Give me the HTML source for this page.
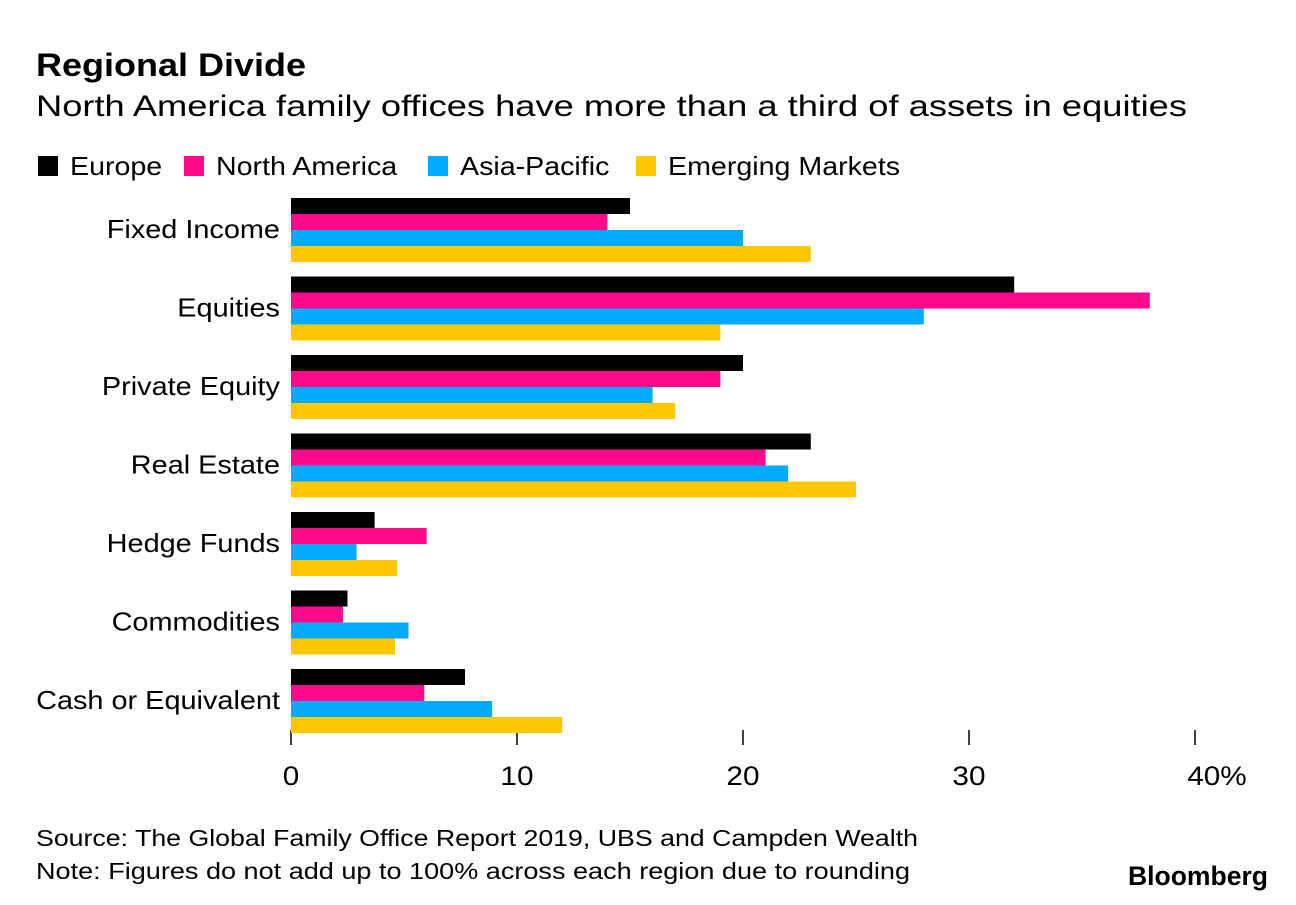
<!DOCTYPE html>
<html><head><meta charset="utf-8"><style>
body{margin:0;background:#fff;font-family:"Liberation Sans",sans-serif;}
</style></head><body>
<svg width="1296" height="900" xmlns="http://www.w3.org/2000/svg" style="font-family:'Liberation Sans',sans-serif">
<text x="36" y="76" font-size="32" font-weight="bold" fill="#000" textLength="270" lengthAdjust="spacingAndGlyphs">Regional Divide</text>
<text x="36" y="116" font-size="30" fill="#000" textLength="1151" lengthAdjust="spacingAndGlyphs">North America family offices have more than a third of assets in equities</text>
<g id="legend"></g>
<g id="plot"></g>
<text x="36" y="846" font-size="23" fill="#000" textLength="882" lengthAdjust="spacingAndGlyphs">Source: The Global Family Office Report 2019, UBS and Campden Wealth</text>
<text x="36" y="879" font-size="23" fill="#000" textLength="874" lengthAdjust="spacingAndGlyphs">Note: Figures do not add up to 100% across each region due to rounding</text>
<text x="1268" y="885" font-size="27" font-weight="bold" text-anchor="end" fill="#000" textLength="140" lengthAdjust="spacingAndGlyphs">Bloomberg</text>
</svg>
<script>
const categories=["Fixed Income","Equities","Private Equity","Real Estate","Hedge Funds","Commodities","Cash or Equivalent"];
const seriesNames=["Europe","North America","Asia-Pacific","Emerging Markets"];
const europe=[15,32,20,23,3.7,2.5,7.7];
const northAmerica=[14,38,19,21,6,2.3,5.9];
const asiaPacific=[20,28,16,22,2.9,5.2,8.9];
const emerging=[23,19,17,25,4.7,4.6,12];
const ticks=[0,10,20,30,40];
const tickLabels=["0","10","20","30","40%"];
const colors=["#000000","#ff0a8c","#00aaff","#ffc800"];
const NS="http://www.w3.org/2000/svg";
const x0=291, pxPer=22.6, groupTop=198, groupStep=78.5, barH=16;
const xs=v=>x0+v*pxPer;
function mk(tag,attrs,parent){const e=document.createElementNS(NS,tag);for(const k in attrs)e.setAttribute(k,attrs[k]);parent.appendChild(e);return e;}
const plot=document.getElementById('plot'), legend=document.getElementById('legend');
const series=[europe,northAmerica,asiaPacific,emerging];
const legendX=[38,184,428,636];
seriesNames.forEach((n,i)=>{
  const r=mk('rect',{x:legendX[i],y:156,width:20,height:20,fill:colors[i]},legend);
  
  
  const t=mk('text',{x:legendX[i]+32,y:175,'font-size':26,fill:'#000'},legend);
  t.textContent=n;
  
  
  t.setAttribute('textLength',(t.getComputedTextLength()*1.1).toFixed(1));
  t.setAttribute('lengthAdjust','spacingAndGlyphs');
});
ticks.forEach((v,i)=>{
  const l=mk('line',{x1:xs(v),x2:xs(v),y1:730,y2:745,stroke:'#000','stroke-width':1.5},plot);
  
  
  const t=mk('text',{x:xs(v)+(i==ticks.length-1?22:0),y:785,'font-size':27,'text-anchor':'middle',fill:'#000'},plot);
  t.textContent=tickLabels[i];
  
  
  t.setAttribute('textLength',(t.getComputedTextLength()*1.1).toFixed(1));
  t.setAttribute('lengthAdjust','spacingAndGlyphs');
});
categories.forEach((c,ci)=>{
  const gy=groupTop+ci*groupStep;
  const t=mk('text',{x:280,y:gy+40,'font-size':26,'text-anchor':'end',fill:'#000'},plot);
  t.textContent=c;
  
  
  t.setAttribute('textLength',(t.getComputedTextLength()*1.11).toFixed(1));
  t.setAttribute('lengthAdjust','spacingAndGlyphs');
  series.forEach((s,si)=>{
    const b=mk('rect',{x:x0,y:gy+si*barH,width:xs(s[ci])-x0,height:barH,fill:colors[si]},plot);
    
    
  });
});
</script>
</body></html>
